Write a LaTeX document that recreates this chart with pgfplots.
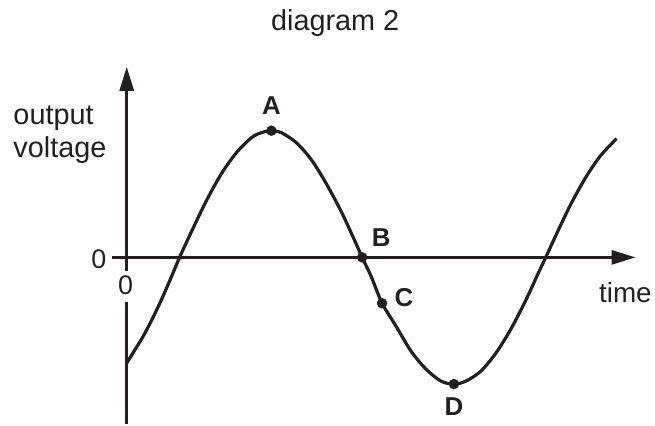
\documentclass[border=0pt]{standalone}
\usepackage{fontspec}
\setmainfont{Liberation Sans}
\usepackage{pgfplots}
\pgfplotsset{compat=1.18}
\usetikzlibrary{arrows.meta}
\definecolor{ink}{RGB}{35,31,32}

% curve (x: px right of the y axis, y: px above the time axis)
\pgfplotstableread{
x y
0 -106
8 -93
16 -80
25 -63
35 -42
45 -19
53 0
65 26
80 57
95 84
110 105
125 120
135 125
145 127
155 125
170 115
185 98
200 74
215 46
228 18
236 0
245 -19
256 -46
270 -69
285 -94
300 -112
315 -124
328 -127
340 -124
355 -114
370 -96
385 -72
400 -43
412 -17
420 0
432 26
445 53
460 80
475 102
491 119
}\wave

\pgfplotstableread{
x y
145 127
236 0
256 -46
328 -127
}\points

\begin{document}
\begin{tikzpicture}
\begin{axis}[
    scale only axis,
    width=655bp, height=427bp,
    xmin=-127, xmax=528,
    ymin=-169, ymax=258,
    axis lines=none,
    clip=false,
]
\path (axis cs:-127,-169) rectangle (axis cs:528,258);
% axes
\draw[ink, line width=3bp, -{Triangle[length=24bp,width=14bp]}] (axis cs:-15,0) -- (axis cs:510,0);
\draw[ink, line width=3bp, -{Triangle[length=24bp,width=14bp]}] (axis cs:0,0) -- (axis cs:0,191);
\draw[ink, line width=3bp] (axis cs:0,0) -- (axis cs:0,-14);
\draw[ink, line width=3bp] (axis cs:0,-45) -- (axis cs:0,-167);

\addplot[ink, line width=3.2bp, smooth, no marks] table {\wave};
\addplot[ink, only marks, mark=*, mark size=5bp] table {\points};

\node[ink, font=\fontsize{29}{34}\selectfont] at (axis cs:209,235) {diagram 2};
\node[ink, anchor=base west, font=\fontsize{29}{34}\selectfont] at (axis cs:-117,133) {output};
\node[ink, anchor=base west, font=\fontsize{29}{34}\selectfont] at (axis cs:-117,100) {voltage};
\node[ink, anchor=base west, font=\fontsize{28}{32}\selectfont] at (axis cs:470,-45) {time};
\node[ink, font=\fontsize{27}{30}\selectfont] at (axis cs:-28,-2) {0};
\node[ink, font=\fontsize{27}{30}\selectfont] at (axis cs:-1,-28) {0};
\node[ink, font=\bfseries\fontsize{26}{30}\selectfont] at (axis cs:145,152) {A};
\node[ink, font=\bfseries\fontsize{26}{30}\selectfont] at (axis cs:255,20) {B};
\node[ink, font=\bfseries\fontsize{26}{30}\selectfont] at (axis cs:278,-40) {C};
\node[ink, font=\bfseries\fontsize{26}{30}\selectfont] at (axis cs:328,-150) {D};
\end{axis}
\end{tikzpicture}
\end{document}
